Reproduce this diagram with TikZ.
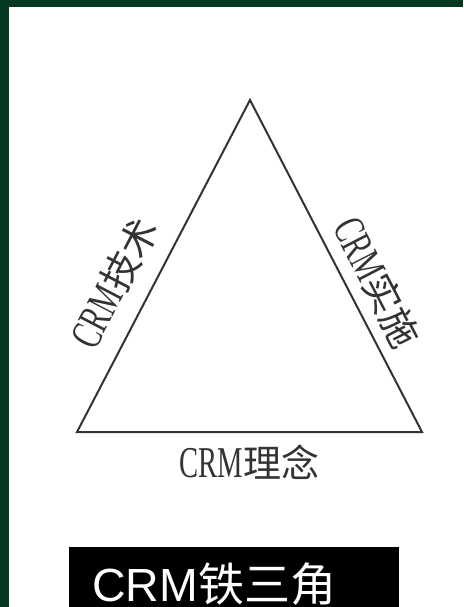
\documentclass[tikz,border=0pt]{standalone}
\usepackage{fontspec}
\setsansfont{Liberation Sans}
\newfontfamily\cjk{Noto Sans CJK SC}
\newfontfamily\narrowserif[FakeStretch=0.65]{Liberation Serif}
\usetikzlibrary{positioning}
\definecolor{framegreen}{HTML}{053823}
\newcommand{\crmtext}[1]{{\narrowserif\fontsize{44}{44}\selectfont CRM}{\cjk\fontsize{38}{38}\selectfont #1}}
\tikzset{
  edgelabel/.style={text=black!80, inner sep=0pt, sloped},
  titlebox/.style={anchor=north west, fill=black, text=white, inner xsep=23pt, inner ysep=6pt,
    text height=48pt, text depth=0pt, text width=284pt, align=left}
}

\begin{document}
\begin{tikzpicture}[x=1pt, y=-1pt]
    \fill[white] (0,0) rectangle (463,607);
    \useasboundingbox (0,0) rectangle (463,607);
    \fill[framegreen] (0,0) rectangle (463,7);
    \fill[framegreen] (0,0) rectangle (9,607);
    \coordinate (apex) at (250,100);
    \coordinate (left) at (77,432);
    \coordinate (right) at (422,432);
    \draw[black!80, line width=2pt] (apex) -- (right) -- (left) -- cycle;
    \path (left) -- node (tech) [edgelabel, pos=0.4, above=18pt] {\crmtext{技术}} (apex);
    \path (apex) -- node (impl) [edgelabel, pos=0.59, above=11pt] {\crmtext{实施}} (right);
    \path (left) -- node (idea) [edgelabel, below=13pt] {\crmtext{理念}} (right);
    \node (title) [titlebox] at (69,547) {{\sffamily\fontsize{46.5}{46.5}\selectfont CRM}{\cjk\fontsize{46}{46}\selectfont 铁三角}};
\end{tikzpicture}
\end{document}
